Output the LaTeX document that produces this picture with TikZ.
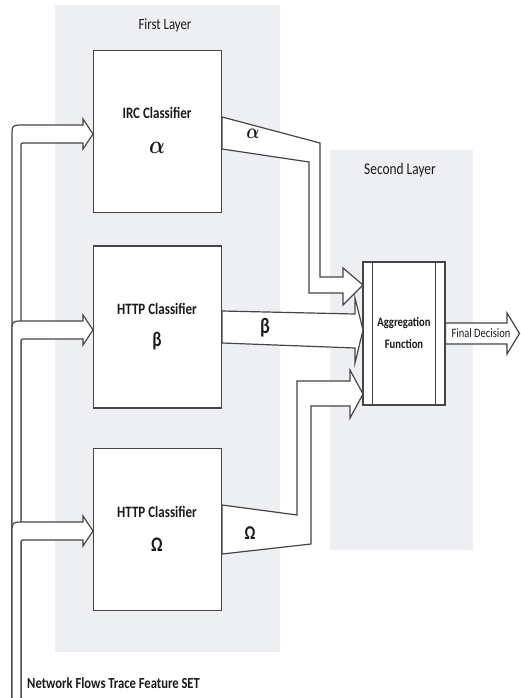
\documentclass[tikz,border=0pt]{standalone}
\usepackage{fontspec}
\usepackage{graphicx}
\setmainfont{Carlito}
\definecolor{linec}{HTML}{454545}
\definecolor{layerc}{HTML}{EEEFF3}
\definecolor{txtc}{HTML}{1A1A1A}
\newcommand{\vst}[1]{\scalebox{1}[1.22]{#1}}
\usetikzlibrary{calc}
\begin{document}
\begin{tikzpicture}[x=1pt,y=-1pt,
  ln/.style={draw=linec, line width=1.2pt, line join=miter},
  blk/.style={ln, fill=white},
  clsbox/.style={blk, minimum width=128pt, minimum height=162pt, inner sep=0pt},
  ttl/.style={text=txtc, inner sep=0pt, font=\fontsize{12.8}{14}\selectfont},
  clstxt/.style={text=txtc, inner sep=0pt, font=\bfseries\fontsize{13}{15}\selectfont},
  grk/.style={text=txtc, inner sep=0pt, font=\bfseries\fontsize{17}{19}\selectfont},
  small/.style={text=txtc, inner sep=0pt, font=\fontsize{10.5}{12}\selectfont}]
\useasboundingbox (0,0) rectangle (520,698);
\clip (0,0) rectangle (520,698);
\fill[white] (0,0) rectangle (520,698);
% layers
\fill[layerc] (55,5) rectangle (280,652);
\fill[layerc] (330,150) rectangle (473,550);
\node[ttl] (l1) at (165,25) {\vst{First Layer}};
\node[ttl,font=\fontsize{13.4}{15}\selectfont] (l2) at (400,170) {\vst{Second Layer}};
% input block arrows
\foreach \yc [evaluate=\yc as \a using \yc-9, evaluate=\yc as \b using \yc+9] in {134,330,531}{
  \filldraw[blk] (12,710) -- (12,\a+12) .. controls (12,\a) .. (24,\a) -- (83,\a) -- (83,\yc-15)
    -- (93,\yc) -- (83,\yc+15) -- (83,\b) -- (25,\b) .. controls (21,\b) .. (21,\b+4) -- (21,710) -- cycle;
}
% classifier boxes
\node[clsbox] (irc) at (157.5,131.5) {};
\node[clsbox] (http) at (157.5,327) {};
\node[clsbox] (omg) at (157.5,529.5) {};
\node[clstxt] (irct) at (157,113) {\vst{IRC Classifier}};
\node[grk,font=\fontsize{21}{23}\selectfont] (irca) at (157,148) {\vst{\boldmath$\alpha$}};
\node[clstxt] (httpt) at (157,309) {\vst{HTTP Classifier}};
\node[grk] (httpb) at (157,341) {\vst{β}};
\node[clstxt] (omgt) at (157,512) {\vst{HTTP Classifier}};
\node[grk] (omgo) at (157,545) {\vst{Ω}};
% aggregation box
\node[blk, minimum width=82pt, minimum height=143pt, inner sep=0pt] (agg) at (404,333.5) {};
\draw[ln] ($(agg.north west)+(10,0)$) -- ($(agg.south west)+(10,0)$);
\draw[ln] ($(agg.north east)+(-10,0)$) -- ($(agg.south east)+(-10,0)$);
\node[clstxt,font=\bfseries\fontsize{10.6}{12}\selectfont] (aggt1) at (404,323) {\vst{Aggregation}};
\node[clstxt,font=\bfseries\fontsize{10.6}{12}\selectfont] (aggt2) at (404,344) {\vst{Function}};
% output block arrows
\filldraw[blk] ($(irc.east)+(0,-14.5)$) -- (320,143) -- (320,277) -- (343,277) -- (343,268)
  -- (363,285) -- (343,305) -- (343,293) -- (309,293) -- (309,162) -- ($(irc.east)+(0,17.5)$) -- cycle;
\filldraw[blk] ($(http.east)+(0,-16)$) -- (355,314) -- (355,298) -- (363,330) -- (355,363)
  -- (355,348) -- ($(http.east)+(0,16)$) -- cycle;
\filldraw[blk] ($(omg.east)+(0,-24.5)$) -- (297,515) -- (297,381) -- (350,381) -- (350,370)
  -- (363,394) -- (350,418) -- (350,406) -- (311,406) -- (311,544) -- ($(omg.east)+(0,24.5)$) -- cycle;
\node[grk,font=\fontsize{19}{21}\selectfont] (la) at (253,134) {\vst{\boldmath$\alpha$}};
\node[grk,font=\bfseries\fontsize{18}{20}\selectfont] (lb) at (265,328) {\vst{β}};
\node[grk,font=\bfseries\fontsize{16}{18}\selectfont] (lo) at (250,533) {\vst{Ω}};
% final decision
\filldraw[blk] (agg.east |- 0,323) -- (507,323) -- (507,313) -- (519.5,333.5) -- (507,354)
  -- (507,344) -- (agg.east |- 0,344) -- cycle;
\node[small] (fd) at (481,333) {\vst{Final Decision}};
% bottom label
\node[clstxt,anchor=west,font=\bfseries\fontsize{12.6}{14}\selectfont] (nf) at (27,683) {\vst{Network Flows Trace Feature SET}};
\end{tikzpicture}
\end{document}
